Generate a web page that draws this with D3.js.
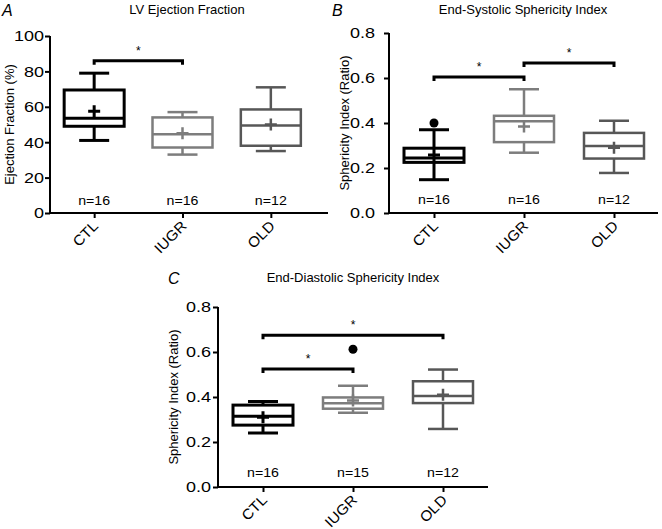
<!DOCTYPE html>
<html>
<head>
<meta charset="utf-8">
<script src="https://cdn.jsdelivr.net/npm/d3@7"></script>
<style>
  body { margin: 0; background: #fff; }
  svg { display: block; font-family: "Liberation Sans", Arial, sans-serif; }
</style>
</head>
<body>
<svg id="chart" width="662" height="529"></svg>
<script>
// groups shared by all three panels
var groups = ["CTL", "IUGR", "OLD"];

// A: LV ejection fraction (%)  lo, q1, median, q3, hi, mean
var efStats = [
  {lo: 41, q1: 49, med: 53.5, q3: 69.5, hi: 79, mean: 57.5},
  {lo: 33, q1: 37, med: 44.5, q3: 54, hi: 57, mean: 45},
  {lo: 35, q1: 38, med: 49.5, q3: 58.5, hi: 71, mean: 50}
];
var efN = [16, 16, 12];
var efOutliers = [];
var efSig = [{from: "CTL", to: "IUGR", y: 86}];
var efTicks = [0, 20, 40, 60, 80, 100];

// B: end-systolic sphericity index
var esStats = [
  {lo: 0.148, q1: 0.225, med: 0.245, q3: 0.288, hi: 0.37, mean: 0.258},
  {lo: 0.268, q1: 0.315, med: 0.408, q3: 0.432, hi: 0.55, mean: 0.385},
  {lo: 0.178, q1: 0.242, med: 0.298, q3: 0.356, hi: 0.41, mean: 0.29}
];
var esN = [16, 16, 12];
var esOutliers = [{g: "CTL", v: 0.40}];
var esSig = [{from: "CTL", to: "IUGR", y: 0.605}, {from: "IUGR", to: "OLD", y: 0.667}];

// C: end-diastolic sphericity index
var edStats = [
  {lo: 0.24, q1: 0.275, med: 0.315, q3: 0.364, hi: 0.38, mean: 0.31},
  {lo: 0.33, q1: 0.348, med: 0.372, q3: 0.398, hi: 0.45, mean: 0.385},
  {lo: 0.258, q1: 0.373, med: 0.405, q3: 0.47, hi: 0.522, mean: 0.41}
];
var edN = [16, 15, 12];
var edOutliers = [{g: "IUGR", v: 0.612}];
var edSig = [{from: "CTL", to: "IUGR", y: 0.524}, {from: "CTL", to: "OLD", y: 0.675}];
var siTicks = [0, 0.2, 0.4, 0.6, 0.8];

var color = d3.scaleOrdinal().domain(groups).range(["#000000", "#7d7d7d", "#575757"]);
var width = d3.scaleOrdinal().domain(groups).range([3, 2.5, 2.5]);

var svg = d3.select("#chart");
svg.append("rect").attr("width", 662).attr("height", 529).attr("fill", "#fff");

//
// widen text a bit, the source figure is stretched horizontally
function stretch(sel, k) {
  sel.each(function() {
    var len = this.getComputedTextLength();
    d3.select(this).attr("textLength", len * k).attr("lengthAdjust", "spacingAndGlyphs");
  });
}

//
// one boxplot panel
function panel(o) {
  var g = svg.append("g");
  var x = d3.scalePoint().domain(groups).range([o.x0, o.x1]).padding(0.5);
  var y = d3.scaleLinear().domain(o.domain).range([o.yb, o.yt]);
  var bw = 60, cw = 30;

  // axes
  var ya = g.append("g").attr("transform", "translate(" + o.x0 + ",0)")
    .call(d3.axisLeft(y).tickValues(o.ticks).tickFormat(o.fmt).tickSize(5).tickPadding(o.pad));
  ya.select(".domain").attr("stroke-width", 2).attr("d", "M0," + y(o.domain[0]) + "V" + y(o.domain[1]));
  ya.selectAll(".tick line").attr("stroke-width", 2);
  ya.selectAll("text").attr("font-size", 15).attr("fill", "#000").call(stretch, 1.2);

  var xa = g.append("g").attr("transform", "translate(0," + o.yb + ")")
    .call(d3.axisBottom(x).tickSize(5).tickFormat(""));
  xa.select(".domain").attr("stroke-width", 2).attr("d", "M" + o.x0 + ",0H" + o.xEnd);
  xa.selectAll(".tick line").attr("stroke-width", 2);
  groups.forEach(function(c) {
    g.append("text").text(c)
      .attr("transform", "translate(" + (x(c) + 5) + "," + (o.yb + 14) + ") rotate(-45)")
      .attr("text-anchor", "end").attr("font-size", 14.5).call(stretch, 1.06);
  });

  // boxes
  var bx = g.selectAll("g.box").data(o.stats).join("g").attr("class", "box")
    .attr("stroke", function(d, i) { return color(groups[i]); })
    .attr("stroke-width", function(d, i) { return width(groups[i]); })
    .attr("fill", "none");
  bx.each(function(d, i) {
    var s = d3.select(this), cx = x(groups[i]);
    s.append("line").attr("x1", cx).attr("x2", cx).attr("y1", y(d.hi)).attr("y2", y(d.q3));
    s.append("line").attr("x1", cx).attr("x2", cx).attr("y1", y(d.q1)).attr("y2", y(d.lo));
    s.append("line").attr("x1", cx - cw / 2).attr("x2", cx + cw / 2).attr("y1", y(d.hi)).attr("y2", y(d.hi));
    s.append("line").attr("x1", cx - cw / 2).attr("x2", cx + cw / 2).attr("y1", y(d.lo)).attr("y2", y(d.lo));
    s.append("rect").attr("x", cx - bw / 2).attr("width", bw)
      .attr("y", y(d.q3)).attr("height", y(d.q1) - y(d.q3)).attr("fill", "#fff");
    s.append("line").attr("x1", cx - bw / 2).attr("x2", cx + bw / 2).attr("y1", y(d.med)).attr("y2", y(d.med));
    s.append("path").attr("d", "M" + (cx - 6) + "," + y(d.mean) + "h12M" + cx + "," + (y(d.mean) - 6) + "v12");
  });

  // outliers
  g.selectAll("circle.out").data(o.outliers).join("circle").attr("class", "out")
    .attr("cx", function(d) { return x(d.g); }).attr("cy", function(d) { return y(d.v); })
    .attr("r", 4.5).attr("fill", "#000");

  // significance brackets
  o.sig.forEach(function(s) {
    var yy = y(s.y), a = x(s.from), b = x(s.to);
    g.append("path").attr("d", "M" + a + "," + (yy + 4) + "V" + yy + "H" + b + "V" + (yy + 4))
      .attr("fill", "none").attr("stroke", "#000").attr("stroke-width", 3);
    g.append("text").text("*").attr("x", (a + b) / 2).attr("y", yy - 6)
      .attr("text-anchor", "middle").attr("font-size", 12).attr("fill", "#000");
  });

  // n labels
  g.selectAll("text.n").data(o.n).join("text").attr("class", "n")
    .attr("x", function(d, i) { return x(groups[i]); }).attr("y", o.nY)
    .attr("text-anchor", "middle").attr("font-size", 13.5)
    .text(function(d) { return "n=" + d; }).call(stretch, 1.05);

  // titles
  g.append("text").text(o.title).attr("x", o.tx).attr("y", o.ty)
    .attr("text-anchor", "middle").attr("font-size", 13);
  g.append("text").text(o.letter).attr("x", o.lx).attr("y", o.ty + 2)
    .attr("font-size", 16).attr("font-style", "italic");
  g.append("text").text(o.ylabel)
    .attr("transform", "translate(" + o.ylx + "," + (o.yb + o.yt) / 2 + ") rotate(-90)")
    .attr("text-anchor", "middle").attr("font-size", 13);
}

panel({x0: 50, x1: 315, xEnd: 328, yb: 213, yt: 36, domain: [0, 100], ticks: efTicks, fmt: d3.format("d"), pad: 1,
  stats: efStats, n: efN, outliers: efOutliers, sig: efSig, nY: 205,
  title: "LV Ejection Fraction", tx: 187, ty: 14, letter: "A", lx: 2,
  ylabel: "Ejection Fraction (%)", ylx: 14});

panel({x0: 389, x1: 659, xEnd: 658, yb: 213, yt: 33, domain: [0, 0.8], ticks: siTicks, fmt: d3.format(".1f"), pad: 9,
  stats: esStats, n: esN, outliers: esOutliers, sig: esSig, nY: 204,
  title: "End-Systolic Sphericity Index", tx: 523, ty: 14, letter: "B", lx: 332,
  ylabel: "Sphericity Index (Ratio)", ylx: 349});

panel({x0: 218, x1: 488, xEnd: 488, yb: 487, yt: 307, domain: [0, 0.8], ticks: siTicks, fmt: d3.format(".1f"), pad: 2,
  stats: edStats, n: edN, outliers: edOutliers, sig: edSig, nY: 477,
  title: "End-Diastolic Sphericity Index", tx: 353, ty: 282, letter: "C", lx: 168,
  ylabel: "Sphericity Index (Ratio)", ylx: 178});
</script>
</body>
</html>
